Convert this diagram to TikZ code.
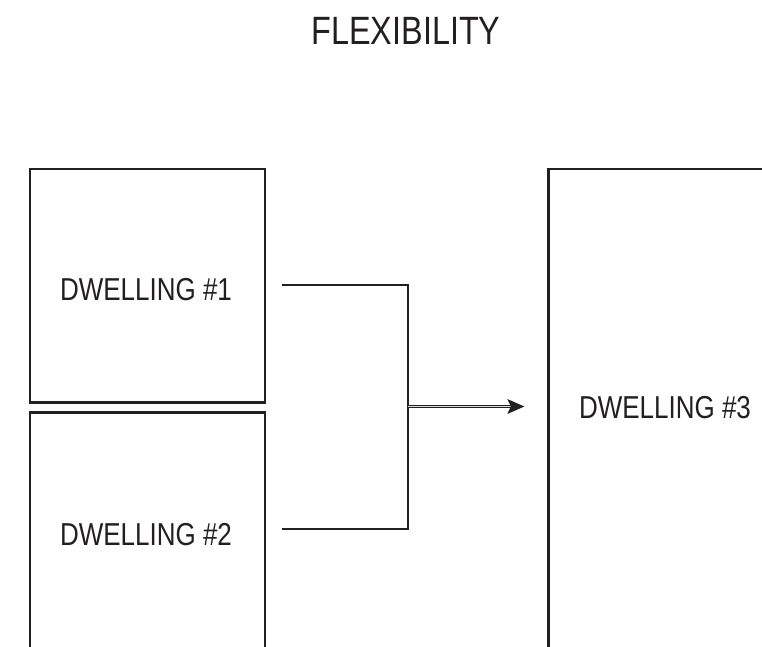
\documentclass[tikz,border=0pt]{standalone}
\usepackage{fontspec}
\setmainfont[FakeStretch=0.82]{Liberation Sans}
\definecolor{ink}{RGB}{35,31,32}
\tikzset{
  unitbox/.style={draw=ink, line width=2.8pt, rectangle, inner sep=0pt},
  label text/.style={text=ink, font=\fontsize{31.7}{32}\selectfont, anchor=base, inner sep=0pt},
  link/.style={draw=ink, line width=2pt},
  merge/.style={draw=ink, line width=1.1pt, double=white!85!ink, double distance=1.1pt},
}
\begin{document}
\begin{tikzpicture}[x=1pt, y=-1pt]
  \useasboundingbox (0,0) rectangle (762,646);
  \begin{scope}
    \clip (0,0) rectangle (762,646);
    % dwelling units
    \node[unitbox, minimum width=235pt, minimum height=233.5pt] (box1) at (147.5,285.75) {};
    \node[unitbox, minimum width=235pt, minimum height=300pt] (box2) at (147.5,562.5) {};
    \node[unitbox, minimum width=300pt, minimum height=600pt] (box3) at (698.7,469) {};
  \end{scope}

  % title
  \node[text=ink, font=\fontsize{39.5}{40}\selectfont, anchor=base, inner sep=0pt] (title) at (406,44) {FLEXIBILITY};

  % labels
  \node[label text] (t1) at (146,300) {DWELLING \#1};
  \node[label text] (t2) at (146,545) {DWELLING \#2};
  \node[label text] (t3) at (665,418) {DWELLING \#3};

  % connectors merging into the larger unit
  \coordinate (a1) at (282,285);
  \coordinate (a2) at (282,529);
  \coordinate (j) at (408,406.5);
  \coordinate (tip) at ([xshift=-23pt]j -| box3.west);
  \draw[link] (a1) -| (j);
  \draw[link] (a2) -| (j);
  \draw[merge] (j) -- ([xshift=-12pt]tip);
  % arrowhead
  \fill[ink] (tip) -- ++(-17,-7.5) -- ++(3.5,7.5) -- ++(-3.5,7.5) -- cycle;
\end{tikzpicture}
\end{document}
